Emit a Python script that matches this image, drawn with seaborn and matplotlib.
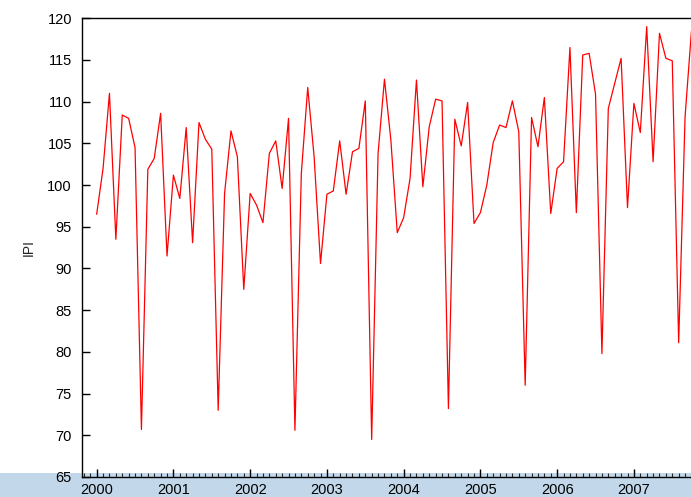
import numpy as np
import pandas as pd
import matplotlib
matplotlib.use("Agg")
import matplotlib.pyplot as plt
from matplotlib.patches import Rectangle
from matplotlib.ticker import MultipleLocator
import seaborn as sns

# Valores mensuales del IPI, enero 2000 - octubre 2007
ipi_2000 = [96.5, 102.0, 111.0, 93.5, 108.4, 108.0, 104.5, 70.7, 101.9, 103.2, 108.6, 91.5]
ipi_2001 = [101.2, 98.4, 106.9, 93.1, 107.5, 105.5, 104.3, 73.0, 99.0, 106.5, 103.4, 87.5]
ipi_2002 = [99.0, 97.6, 95.5, 103.8, 105.3, 99.6, 108.0, 70.6, 101.4, 111.7, 103.4, 90.6]
ipi_2003 = [98.9, 99.3, 105.3, 98.9, 104.0, 104.4, 110.1, 69.5, 103.8, 112.7, 105.4, 94.3]
ipi_2004 = [96.1, 100.8, 112.6, 99.8, 107.0, 110.3, 110.1, 73.2, 107.9, 104.7, 109.9, 95.4]
ipi_2005 = [96.7, 100.0, 105.1, 107.2, 106.9, 110.1, 106.4, 76.0, 108.1, 104.6, 110.5, 96.6]
ipi_2006 = [102.0, 102.8, 116.5, 96.7, 115.6, 115.8, 110.9, 79.8, 109.2, 112.2, 115.2, 97.3]
ipi_2007 = [109.8, 106.3, 119.0, 102.8, 118.2, 115.2, 114.9, 81.1, 108.2, 118.5]

year_labels = ["2000", "2001", "2002", "2003", "2004", "2005", "2006", "2007"]

ipi = ipi_2000 + ipi_2001 + ipi_2002 + ipi_2003 + ipi_2004 + ipi_2005 + ipi_2006 + ipi_2007
df = pd.DataFrame({"t": 2000 + np.arange(len(ipi)) / 12, "IPI": ipi})

sns.set_style("ticks")
plt.rcParams["font.family"] = ["Liberation Sans", "DejaVu Sans"]

fig = plt.figure(figsize=(6.91, 4.97), dpi=100)
fig.patch.set_facecolor("white")
# franja azul inferior
fig.patches.append(Rectangle((0, 0), 1, 24 / 497, transform=fig.transFigure,
                             facecolor="#c2d8ea", edgecolor="none", zorder=-1))

# el eje sigue más allá del borde derecho (imagen recortada)
ax = fig.add_axes([81.7 / 691, 20 / 497, 644.3 / 691, 458.7 / 497])
ax.set_facecolor("none")

sns.lineplot(data=df, x="t", y="IPI", color="red", linewidth=0.9, ax=ax)

ax.set_xlim(1999.805, 2008.2)
ax.set_ylim(65, 120)
ax.set_xticks(np.arange(2000, 2008))
ax.set_xticklabels(year_labels)
ax.xaxis.set_minor_locator(MultipleLocator(1 / 12))
ax.set_yticks(np.arange(65, 121, 5))
ax.tick_params(axis="both", which="major", direction="in", length=6, width=1,
               labelsize=10.5, colors="black", pad=4)
ax.tick_params(axis="x", which="minor", direction="in", length=3, width=0.8)
ax.tick_params(axis="y", pad=7)
ax.set_xlabel("")
ax.set_ylabel("IPI", fontsize=10, labelpad=8)

for side in ["left", "bottom", "top"]:
    ax.spines[side].set_visible(True)
    ax.spines[side].set_color("black")
    ax.spines[side].set_linewidth(1)
ax.spines["right"].set_visible(False)

fig.savefig("out.png", dpi=100)
